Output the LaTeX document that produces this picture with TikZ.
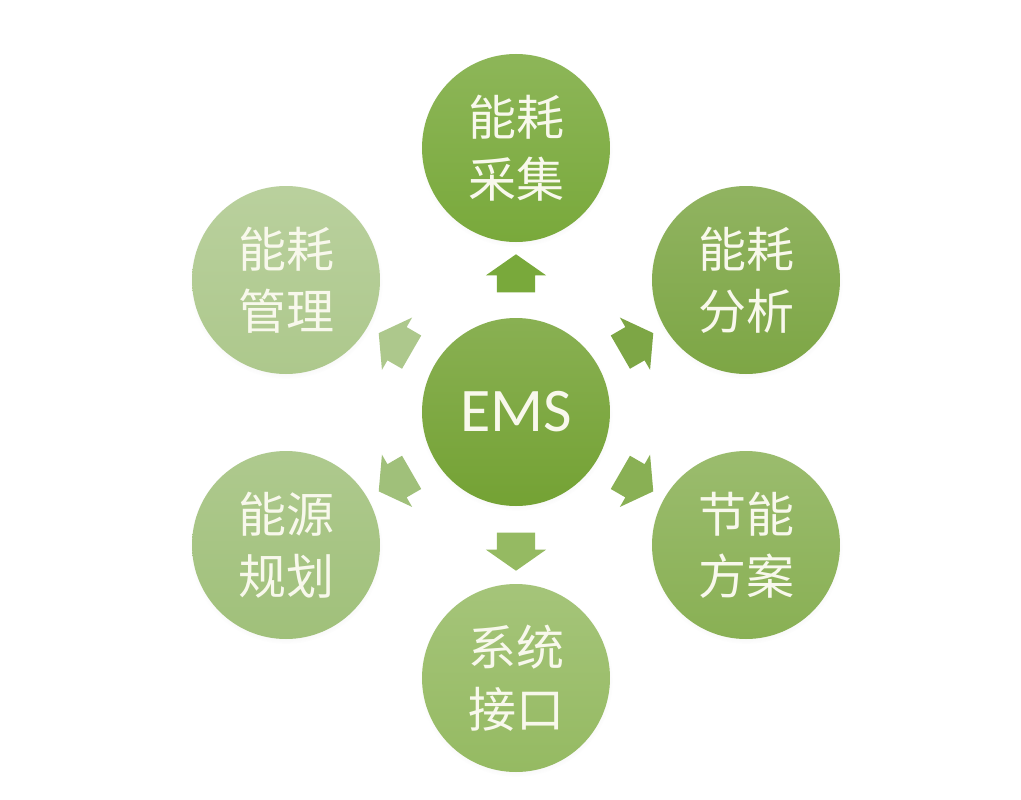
\documentclass[tikz,border=0pt]{standalone}
\usepackage{fontspec}
\setmainfont{Carlito}
\newfontfamily\cjk{Noto Sans CJK SC}
\usetikzlibrary{shapes.arrows,calc,shadows}

\definecolor{emsc}{HTML}{74A234}
\definecolor{cjc}{HTML}{79A93B}
\definecolor{fxc}{HTML}{7DA645}
\definecolor{fac}{HTML}{89B054}
\definecolor{jkc}{HTML}{95BA62}
\definecolor{ghc}{HTML}{A0C07A}
\definecolor{glc}{HTML}{ADC88C}
\definecolor{textc}{HTML}{F8F8EC}

\tikzset{
  ball/.style={circle, minimum size=188pt, inner sep=0pt, text=textc,
    font=\cjk\fontsize{48}{62}\selectfont, align=center,
    top color=#1!85!white, bottom color=#1,
    circular drop shadow={shadow xshift=0pt, shadow yshift=-2pt, opacity=0.12, shadow scale=1.03}},
  blk/.style={single arrow, draw=none, fill=#1, minimum height=38pt,
    inner xsep=0pt, inner ysep=19pt,
    single arrow head extend=11pt, single arrow tip angle=110}
}

\begin{document}
\begin{tikzpicture}[x=1pt,y=-1pt]
    \useasboundingbox[fill=white] (0,0) rectangle (1021,800);

    \node[ball=emsc, font=\fontsize{62}{62}\selectfont] (ems) at (516,412) {EMS};
    \node[ball=cjc] (cj) at (516,148) {能耗\\采集};
    \node[ball=fxc] (fx) at (746,280) {能耗\\分析};
    \node[ball=fac] (fa) at (746,545) {节能\\方案};
    \node[ball=jkc] (jk) at (516,678) {系统\\接口};
    \node[ball=ghc] (gh) at (286,545) {能源\\规划};
    \node[ball=glc] (gl) at (286,280) {能耗\\管理};

    \node[blk=cjc, rotate=90] (a1) at ($(ems)!0.5!(cj)$) {};
    \node[blk=fxc, rotate=30] (a2) at ($(ems)!0.5!(fx)$) {};
    \node[blk=fac, rotate=-30] (a3) at ($(ems)!0.5!(fa)$) {};
    \node[blk=jkc, rotate=-90] (a4) at ($(ems)!0.5!(jk)$) {};
    \node[blk=ghc, rotate=210] (a5) at ($(ems)!0.5!(gh)$) {};
    \node[blk=glc, rotate=150] (a6) at ($(ems)!0.5!(gl)$) {};
  \end{tikzpicture}
\end{document}
